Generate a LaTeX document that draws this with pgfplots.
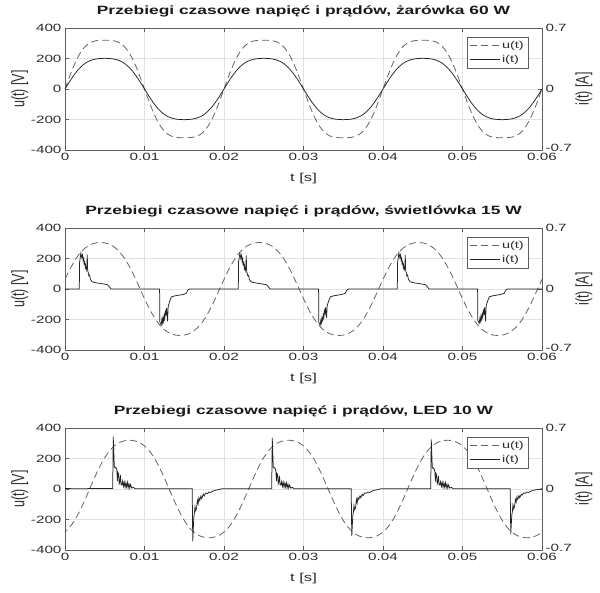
\documentclass[border=0pt]{standalone}
\usepackage{fontspec}
\setmainfont{Liberation Sans}[FakeStretch=1.45]
\newfontfamily\plainsans{Liberation Sans}
\usepackage{graphicx}
\usepackage{pgfplots}
\pgfplotsset{compat=1.18}

\definecolor{axisgray}{RGB}{95,95,95}
\definecolor{textgray}{RGB}{45,45,45}
\definecolor{gridgray}{RGB}{226,226,226}
\definecolor{ucol}{RGB}{100,100,100}
\definecolor{icol}{RGB}{35,35,35}

\pgfplotsset{
  common/.style={
    width=477pt, height=122pt, scale only axis,
    xmin=0, xmax=0.06, scaled x ticks=false, scaled y ticks=false,
    tick align=inside, major tick length=4pt,
    tick style={axisgray, line width=0.5pt},
    axis line style={axisgray, line width=0.6pt},
    ticklabel style={font=\fontsize{10.5}{12}\selectfont, text=textgray},
  },
  leftax/.style={common,
    ymin=-400, ymax=400,
    xtick={0,0.01,0.02,0.03,0.04,0.05,0.06},
    xticklabels={0,0.01,0.02,0.03,0.04,0.05,0.06},
    ytick={-400,-200,0,200,400},
    yticklabels={-400,-200,0,200,400},
    ytick pos=left,
    grid=major, grid style={gridgray, line width=0.5pt},
    xlabel={t [s]},
    ylabel={\scalebox{1}[1.45]{\plainsans u(t) [V]}},
    xlabel style={at={(axis description cs:0.5,-0.23)}, anchor=center,
      font=\fontsize{11.5}{13}\selectfont, text=textgray},
    ylabel style={at={(axis description cs:-0.095,0.5)}, anchor=center,
      font=\fontsize{12.5}{14}\selectfont, text=textgray},
    title style={at={(axis description cs:0.5,1.09)}, anchor=center,
      font=\bfseries\fontsize{12}{14}\selectfont, text=black!90},
  },
  rightax/.style={common,
    axis x line=none, axis y line*=right,
    ymin=-0.7, ymax=0.7,
    ytick={-0.7,0,0.7}, yticklabels={\raisebox{4pt}{-0.7},0,0.7},
    ylabel={\scalebox{1}[1.45]{\plainsans i(t) [A]}},
    ylabel style={at={(axis description cs:1.088,0.5)}, anchor=center,
      font=\fontsize{12.5}{14}\selectfont, text=textgray},
    legend style={at={(rel axis cs:0.9706,0.926)}, anchor=north east,
      draw=axisgray, fill=white, font=\fontsize{10}{12}\selectfont,
      text=textgray, inner xsep=2pt, inner ysep=2pt, row sep=1pt,
      cells={anchor=west}},
    legend image code/.code={\draw[#1] (0pt,0pt) -- (30pt,0pt);},
  },
  ustyle/.style={ucol, line width=0.8pt, dash pattern=on 7pt off 4pt},
  istyle/.style={icol, line width=0.75pt},
}

\begin{document}
\begin{tikzpicture}
\useasboundingbox (-65pt,-443pt) rectangle (535pt,150pt);

% ---------- plot 1: zarowka 60 W ----------
\begin{axis}[leftax, at={(0pt,0pt)},
  title={Przebiegi czasowe napięć i prądów, żarówka 60 W}]
\addplot[ustyle, smooth] coordinates {
(0,0) (0.0005,71.8) (0.001,138.6) (0.0015,196.6) (0.002,242.8) (0.0025,276.6) (0.003,298.7) (0.0035,311.3) (0.004,317.3) (0.0045,319.5)
(0.005,320) (0.0055,319.5) (0.006,317.3) (0.0065,311.3) (0.007,298.7) (0.0075,276.6) (0.008,242.8) (0.0085,196.6) (0.009,138.6) (0.0095,71.8)
(0.01,0) (0.0105,-71.8) (0.011,-138.6) (0.0115,-196.6) (0.012,-242.8) (0.0125,-276.6) (0.013,-298.7) (0.0135,-311.3) (0.014,-317.3) (0.0145,-319.5)
(0.015,-320) (0.0155,-319.5) (0.016,-317.3) (0.0165,-311.3) (0.017,-298.7) (0.0175,-276.6) (0.018,-242.8) (0.0185,-196.6) (0.019,-138.6) (0.0195,-71.8)
(0.02,0) (0.0205,71.8) (0.021,138.6) (0.0215,196.6) (0.022,242.8) (0.0225,276.6) (0.023,298.7) (0.0235,311.3) (0.024,317.3) (0.0245,319.5)
(0.025,320) (0.0255,319.5) (0.026,317.3) (0.0265,311.3) (0.027,298.7) (0.0275,276.6) (0.028,242.8) (0.0285,196.6) (0.029,138.6) (0.0295,71.8)
(0.03,0) (0.0305,-71.8) (0.031,-138.6) (0.0315,-196.6) (0.032,-242.8) (0.0325,-276.6) (0.033,-298.7) (0.0335,-311.3) (0.034,-317.3) (0.0345,-319.5)
(0.035,-320) (0.0355,-319.5) (0.036,-317.3) (0.0365,-311.3) (0.037,-298.7) (0.0375,-276.6) (0.038,-242.8) (0.0385,-196.6) (0.039,-138.6) (0.0395,-71.8)
(0.04,0) (0.0405,71.8) (0.041,138.6) (0.0415,196.6) (0.042,242.8) (0.0425,276.6) (0.043,298.7) (0.0435,311.3) (0.044,317.3) (0.0445,319.5)
(0.045,320) (0.0455,319.5) (0.046,317.3) (0.0465,311.3) (0.047,298.7) (0.0475,276.6) (0.048,242.8) (0.0485,196.6) (0.049,138.6) (0.0495,71.8)
(0.05,0) (0.0505,-71.8) (0.051,-138.6) (0.0515,-196.6) (0.052,-242.8) (0.0525,-276.6) (0.053,-298.7) (0.0535,-311.3) (0.054,-317.3) (0.0545,-319.5)
(0.055,-320) (0.0555,-319.5) (0.056,-317.3) (0.0565,-311.3) (0.057,-298.7) (0.0575,-276.6) (0.058,-242.8) (0.0585,-196.6) (0.059,-138.6) (0.0595,-71.8)
(0.06,0)
};
\end{axis}
\begin{axis}[rightax, at={(0pt,0pt)}]
\addlegendimage{ustyle}
\addlegendentry{u(t)}
\addplot[istyle, smooth] coordinates {
(0,0) (0.0005,0.0737) (0.001,0.143) (0.0015,0.2039) (0.002,0.254) (0.0025,0.2922) (0.003,0.319) (0.0035,0.3361) (0.004,0.3459) (0.0045,0.3506)
(0.005,0.352) (0.0055,0.3506) (0.006,0.3459) (0.0065,0.3361) (0.007,0.319) (0.0075,0.2922) (0.008,0.254) (0.0085,0.2039) (0.009,0.143) (0.0095,0.0737)
(0.01,0) (0.0105,-0.0737) (0.011,-0.143) (0.0115,-0.2039) (0.012,-0.254) (0.0125,-0.2922) (0.013,-0.319) (0.0135,-0.3361) (0.014,-0.3459) (0.0145,-0.3506)
(0.015,-0.352) (0.0155,-0.3506) (0.016,-0.3459) (0.0165,-0.3361) (0.017,-0.319) (0.0175,-0.2922) (0.018,-0.254) (0.0185,-0.2039) (0.019,-0.143) (0.0195,-0.0737)
(0.02,0) (0.0205,0.0737) (0.021,0.143) (0.0215,0.2039) (0.022,0.254) (0.0225,0.2922) (0.023,0.319) (0.0235,0.3361) (0.024,0.3459) (0.0245,0.3506)
(0.025,0.352) (0.0255,0.3506) (0.026,0.3459) (0.0265,0.3361) (0.027,0.319) (0.0275,0.2922) (0.028,0.254) (0.0285,0.2039) (0.029,0.143) (0.0295,0.0737)
(0.03,0) (0.0305,-0.0737) (0.031,-0.143) (0.0315,-0.2039) (0.032,-0.254) (0.0325,-0.2922) (0.033,-0.319) (0.0335,-0.3361) (0.034,-0.3459) (0.0345,-0.3506)
(0.035,-0.352) (0.0355,-0.3506) (0.036,-0.3459) (0.0365,-0.3361) (0.037,-0.319) (0.0375,-0.2922) (0.038,-0.254) (0.0385,-0.2039) (0.039,-0.143) (0.0395,-0.0737)
(0.04,0) (0.0405,0.0737) (0.041,0.143) (0.0415,0.2039) (0.042,0.254) (0.0425,0.2922) (0.043,0.319) (0.0435,0.3361) (0.044,0.3459) (0.0445,0.3506)
(0.045,0.352) (0.0455,0.3506) (0.046,0.3459) (0.0465,0.3361) (0.047,0.319) (0.0475,0.2922) (0.048,0.254) (0.0485,0.2039) (0.049,0.143) (0.0495,0.0737)
(0.05,0) (0.0505,-0.0737) (0.051,-0.143) (0.0515,-0.2039) (0.052,-0.254) (0.0525,-0.2922) (0.053,-0.319) (0.0535,-0.3361) (0.054,-0.3459) (0.0545,-0.3506)
(0.055,-0.352) (0.0555,-0.3506) (0.056,-0.3459) (0.0565,-0.3361) (0.057,-0.319) (0.0575,-0.2922) (0.058,-0.254) (0.0585,-0.2039) (0.059,-0.143) (0.0595,-0.0737)
(0.06,0)
};
\addlegendentry{i(t)}
\end{axis}

% ---------- plot 2: swietlowka 15 W ----------
\begin{axis}[leftax, at={(0pt,-200pt)},
  title={Przebiegi czasowe napięć i prądów, świetlówka 15 W}]
\addplot[ustyle, smooth] coordinates {
(-0.00055,0) (-0.00005,57.5) (0.00045,112.2) (0.00095,161.6) (0.00145,204.0) (0.00195,238.3) (0.00245,264.7) (0.00295,283.5) (0.00345,295.9) (0.00395,302.7)
(0.00445,305) (0.00495,302.7) (0.00545,295.9) (0.00595,283.5) (0.00645,264.7) (0.00695,238.3) (0.00745,204.0) (0.00795,161.6) (0.00845,112.2) (0.00895,57.5)
(0.00945,0) (0.00995,-57.5) (0.01045,-112.2) (0.01095,-161.6) (0.01145,-204.0) (0.01195,-238.3) (0.01245,-264.7) (0.01295,-283.5) (0.01345,-295.9) (0.01395,-302.7)
(0.01445,-305) (0.01495,-302.7) (0.01545,-295.9) (0.01595,-283.5) (0.01645,-264.7) (0.01695,-238.3) (0.01745,-204.0) (0.01795,-161.6) (0.01845,-112.2) (0.01895,-57.5)
(0.01945,0) (0.01995,57.5) (0.02045,112.2) (0.02095,161.6) (0.02145,204.0) (0.02195,238.3) (0.02245,264.7) (0.02295,283.5) (0.02345,295.9) (0.02395,302.7)
(0.02445,305) (0.02495,302.7) (0.02545,295.9) (0.02595,283.5) (0.02645,264.7) (0.02695,238.3) (0.02745,204.0) (0.02795,161.6) (0.02845,112.2) (0.02895,57.5)
(0.02945,0) (0.02995,-57.5) (0.03045,-112.2) (0.03095,-161.6) (0.03145,-204.0) (0.03195,-238.3) (0.03245,-264.7) (0.03295,-283.5) (0.03345,-295.9) (0.03395,-302.7)
(0.03445,-305) (0.03495,-302.7) (0.03545,-295.9) (0.03595,-283.5) (0.03645,-264.7) (0.03695,-238.3) (0.03745,-204.0) (0.03795,-161.6) (0.03845,-112.2) (0.03895,-57.5)
(0.03945,0) (0.03995,57.5) (0.04045,112.2) (0.04095,161.6) (0.04145,204.0) (0.04195,238.3) (0.04245,264.7) (0.04295,283.5) (0.04345,295.9) (0.04395,302.7)
(0.04445,305) (0.04495,302.7) (0.04545,295.9) (0.04595,283.5) (0.04645,264.7) (0.04695,238.3) (0.04745,204.0) (0.04795,161.6) (0.04845,112.2) (0.04895,57.5)
(0.04945,0) (0.04995,-57.5) (0.05045,-112.2) (0.05095,-161.6) (0.05145,-204.0) (0.05195,-238.3) (0.05245,-264.7) (0.05295,-283.5) (0.05345,-295.9) (0.05395,-302.7)
(0.05445,-305) (0.05495,-302.7) (0.05545,-295.9) (0.05595,-283.5) (0.05645,-264.7) (0.05695,-238.3) (0.05745,-204.0) (0.05795,-161.6) (0.05845,-112.2) (0.05895,-57.5)
(0.05945,0) (0.05995,57.5) (0.06045,112.2)
};
\end{axis}
\begin{axis}[rightax, at={(0pt,-200pt)}]
\addlegendimage{ustyle}
\addlegendentry{u(t)}
\addplot[istyle] coordinates {
(0,0) (0.0018,0) (0.00183,0.30) (0.0020,0.413) (0.00212,0.36) (0.0022,0.39) (0.00228,0.33) (0.00235,0.35) (0.0024,0.29) (0.00248,0.31)
(0.00255,0.25) (0.0026,0.27) (0.00268,0.22) (0.00275,0.25) (0.0028,0.394) (0.00285,0.21) (0.00292,0.19) (0.003,0.15) (0.0031,0.16) (0.0032,0.11)
(0.0034,0.085) (0.0036,0.077) (0.004,0.07) (0.0045,0.063) (0.005,0.055) (0.0053,0.05) (0.0055,0.035) (0.0057,0.01) (0.0058,0)
(0.0119,0) (0.01192,-0.375) (0.0121,-0.413) (0.01218,-0.35) (0.01225,-0.39) (0.01232,-0.33) (0.0124,-0.37) (0.01248,-0.30) (0.01255,-0.34) (0.01262,-0.26)
(0.0127,-0.29) (0.01278,-0.22) (0.0129,-0.37) (0.01298,-0.20) (0.01308,-0.17) (0.01316,-0.145) (0.01337,-0.091) (0.0138,-0.079) (0.0142,-0.072) (0.0146,-0.068)
(0.015,-0.06) (0.01526,-0.049) (0.01547,-0.01) (0.0157,0)
(0.0218,0) (0.02183,0.31) (0.0220,0.41) (0.02212,0.35) (0.0222,0.385) (0.02228,0.32) (0.02235,0.345) (0.0224,0.28) (0.02248,0.30) (0.02255,0.24)
(0.0226,0.265) (0.02268,0.21) (0.02275,0.24) (0.0228,0.385) (0.02285,0.20) (0.02292,0.18) (0.023,0.15) (0.0231,0.155) (0.0232,0.105) (0.0234,0.085)
(0.0236,0.075) (0.024,0.07) (0.0245,0.062) (0.025,0.055) (0.0253,0.05) (0.0255,0.035) (0.0257,0.01) (0.0258,0)
(0.0319,0) (0.03192,-0.38) (0.0321,-0.415) (0.03218,-0.36) (0.03225,-0.39) (0.03232,-0.33) (0.0324,-0.36) (0.03248,-0.30) (0.03255,-0.33) (0.03262,-0.25)
(0.0327,-0.28) (0.03278,-0.21) (0.0329,-0.33) (0.03298,-0.19) (0.03308,-0.16) (0.03316,-0.14) (0.03337,-0.09) (0.0338,-0.078) (0.0342,-0.072) (0.0346,-0.066)
(0.035,-0.058) (0.03526,-0.048) (0.03547,-0.01) (0.0357,0)
(0.0418,0) (0.04183,0.30) (0.0420,0.415) (0.04212,0.36) (0.0422,0.39) (0.04228,0.33) (0.04235,0.35) (0.0424,0.29) (0.04248,0.31) (0.04255,0.25)
(0.0426,0.27) (0.04268,0.22) (0.04275,0.24) (0.0428,0.39) (0.04285,0.21) (0.04292,0.19) (0.043,0.15) (0.0431,0.16) (0.0432,0.11) (0.0434,0.085)
(0.0436,0.077) (0.044,0.07) (0.0445,0.063) (0.045,0.055) (0.0453,0.05) (0.0455,0.035) (0.0457,0.01) (0.0458,0)
(0.0519,0) (0.05192,-0.36) (0.0521,-0.395) (0.05218,-0.34) (0.05225,-0.37) (0.05232,-0.31) (0.0524,-0.35) (0.05248,-0.29) (0.05255,-0.32) (0.05262,-0.25)
(0.0527,-0.28) (0.05278,-0.21) (0.0529,-0.37) (0.05298,-0.19) (0.05308,-0.16) (0.05316,-0.14) (0.05337,-0.09) (0.0538,-0.078) (0.0542,-0.072) (0.0546,-0.066)
(0.055,-0.058) (0.05526,-0.048) (0.05547,-0.01) (0.0557,0) (0.06,0)
};
\addlegendentry{i(t)}
\end{axis}

% ---------- plot 3: LED 10 W ----------
\begin{axis}[leftax, at={(0pt,-400pt)},
  title={Przebiegi czasowe napięć i prądów, LED 10 W}]
\addplot[ustyle, smooth] coordinates {
(-0.0004,-297.5) (0.0001,-277.7) (0.0006,-250.1) (0.0011,-214.0) (0.0016,-169.5) (0.0021,-117.7) (0.0026,-60.3)
(0.0031,0) (0.0036,60.3) (0.0041,117.7) (0.0046,169.5) (0.0051,214.0) (0.0056,250.1) (0.0061,277.7) (0.0066,297.5) (0.0071,310.4) (0.0076,317.6)
(0.0081,320) (0.0086,317.6) (0.0091,310.4) (0.0096,297.5) (0.0101,277.7) (0.0106,250.1) (0.0111,214.0) (0.0116,169.5) (0.0121,117.7) (0.0126,60.3)
(0.0131,0) (0.0136,-60.3) (0.0141,-117.7) (0.0146,-169.5) (0.0151,-214.0) (0.0156,-250.1) (0.0161,-277.7) (0.0166,-297.5) (0.0171,-310.4) (0.0176,-317.6)
(0.0181,-320) (0.0186,-317.6) (0.0191,-310.4) (0.0196,-297.5) (0.0201,-277.7) (0.0206,-250.1) (0.0211,-214.0) (0.0216,-169.5) (0.0221,-117.7) (0.0226,-60.3)
(0.0231,0) (0.0236,60.3) (0.0241,117.7) (0.0246,169.5) (0.0251,214.0) (0.0256,250.1) (0.0261,277.7) (0.0266,297.5) (0.0271,310.4) (0.0276,317.6)
(0.0281,320) (0.0286,317.6) (0.0291,310.4) (0.0296,297.5) (0.0301,277.7) (0.0306,250.1) (0.0311,214.0) (0.0316,169.5) (0.0321,117.7) (0.0326,60.3)
(0.0331,0) (0.0336,-60.3) (0.0341,-117.7) (0.0346,-169.5) (0.0351,-214.0) (0.0356,-250.1) (0.0361,-277.7) (0.0366,-297.5) (0.0371,-310.4) (0.0376,-317.6)
(0.0381,-320) (0.0386,-317.6) (0.0391,-310.4) (0.0396,-297.5) (0.0401,-277.7) (0.0406,-250.1) (0.0411,-214.0) (0.0416,-169.5) (0.0421,-117.7) (0.0426,-60.3)
(0.0431,0) (0.0436,60.3) (0.0441,117.7) (0.0446,169.5) (0.0451,214.0) (0.0456,250.1) (0.0461,277.7) (0.0466,297.5) (0.0471,310.4) (0.0476,317.6)
(0.0481,320) (0.0486,317.6) (0.0491,310.4) (0.0496,297.5) (0.0501,277.7) (0.0506,250.1) (0.0511,214.0) (0.0516,169.5) (0.0521,117.7) (0.0526,60.3)
(0.0531,0) (0.0536,-60.3) (0.0541,-117.7) (0.0546,-169.5) (0.0551,-214.0) (0.0556,-250.1) (0.0561,-277.7) (0.0566,-297.5) (0.0571,-310.4) (0.0576,-317.6)
(0.0581,-320) (0.0586,-317.6) (0.0591,-310.4) (0.0596,-297.5) (0.0601,-277.7)
};
\end{axis}
\begin{axis}[rightax, at={(0pt,-400pt)}]
\addlegendimage{ustyle}
\addlegendentry{u(t)}
\addplot[istyle] coordinates {
(0,0.005) (0.002,0.003) (0.004,0.006) (0.006,0.005) (0.00607,0.60) (0.0062,0.26) (0.0063,0.24) (0.0064,0.25) (0.00652,0.22) (0.0066,0.09)
(0.00665,0.19) (0.00675,0.17) (0.00682,0.06) (0.0069,0.08) (0.00698,0.16) (0.00705,0.05) (0.00715,0.045) (0.00725,0.09) (0.00735,0.03) (0.00745,0.08)
(0.00755,0.02) (0.00765,0.07) (0.00775,0.02) (0.00785,0.075) (0.00795,0.015) (0.00805,0.06) (0.00815,0.01) (0.00825,0.05) (0.0084,0.01) (0.0086,0.02)
(0.0088,0.004) (0.012,0.002) (0.016,0.003)
(0.01607,-0.60) (0.0162,-0.33) (0.01627,-0.28) (0.01635,-0.20) (0.01645,-0.25) (0.01655,-0.22) (0.01665,-0.13) (0.01675,-0.17) (0.01685,-0.10) (0.01695,-0.13)
(0.0171,-0.08) (0.0172,-0.11) (0.0174,-0.06) (0.0175,-0.08) (0.0177,-0.045) (0.0179,-0.055) (0.0181,-0.035) (0.0183,-0.04) (0.0186,-0.025) (0.0189,-0.015)
(0.0193,-0.008) (0.0197,0.002) (0.023,0.004) (0.026,0.004)
(0.02607,0.59) (0.0262,0.25) (0.0263,0.24) (0.0264,0.245) (0.02652,0.21) (0.0266,0.09) (0.02665,0.18) (0.02675,0.165) (0.02682,0.06) (0.0269,0.08)
(0.02698,0.15) (0.02705,0.05) (0.02715,0.045) (0.02725,0.085) (0.02735,0.03) (0.02745,0.075) (0.02755,0.02) (0.02765,0.07) (0.02775,0.02) (0.02785,0.07)
(0.02795,0.015) (0.02805,0.055) (0.02815,0.01) (0.02825,0.045) (0.0284,0.01) (0.0286,0.02) (0.0288,0.004) (0.032,0.002) (0.036,0.003)
(0.03607,-0.54) (0.0362,-0.31) (0.03627,-0.27) (0.03635,-0.19) (0.03645,-0.24) (0.03655,-0.21) (0.03665,-0.12) (0.03675,-0.16) (0.03685,-0.10) (0.03695,-0.12)
(0.0371,-0.08) (0.0372,-0.10) (0.0374,-0.06) (0.0375,-0.075) (0.0377,-0.045) (0.0379,-0.05) (0.0381,-0.035) (0.0383,-0.04) (0.0386,-0.025) (0.0389,-0.015)
(0.0393,-0.008) (0.0397,0.002) (0.043,0.004) (0.046,0.004)
(0.04607,0.57) (0.0462,0.25) (0.0463,0.235) (0.0464,0.24) (0.04652,0.2) (0.0466,0.085) (0.04665,0.18) (0.04675,0.16) (0.04682,0.06) (0.0469,0.08)
(0.04698,0.15) (0.04705,0.05) (0.04715,0.045) (0.04725,0.085) (0.04735,0.03) (0.04745,0.075) (0.04755,0.02) (0.04765,0.07) (0.04775,0.02) (0.04785,0.07)
(0.04795,0.015) (0.04805,0.055) (0.04815,0.01) (0.04825,0.045) (0.0484,0.01) (0.0486,0.02) (0.0488,0.004) (0.052,0.002) (0.056,0.003)
(0.05607,-0.52) (0.0562,-0.30) (0.05627,-0.26) (0.05635,-0.18) (0.05645,-0.23) (0.05655,-0.20) (0.05665,-0.12) (0.05675,-0.15) (0.05685,-0.09) (0.05695,-0.12)
(0.0571,-0.075) (0.0572,-0.10) (0.0574,-0.06) (0.0575,-0.07) (0.0577,-0.045) (0.0579,-0.05) (0.0581,-0.035) (0.0583,-0.04) (0.0586,-0.025) (0.0589,-0.015)
(0.0593,-0.008) (0.0597,-0.002) (0.06,0.003)
};
\addlegendentry{i(t)}
\end{axis}
\end{tikzpicture}
\end{document}
